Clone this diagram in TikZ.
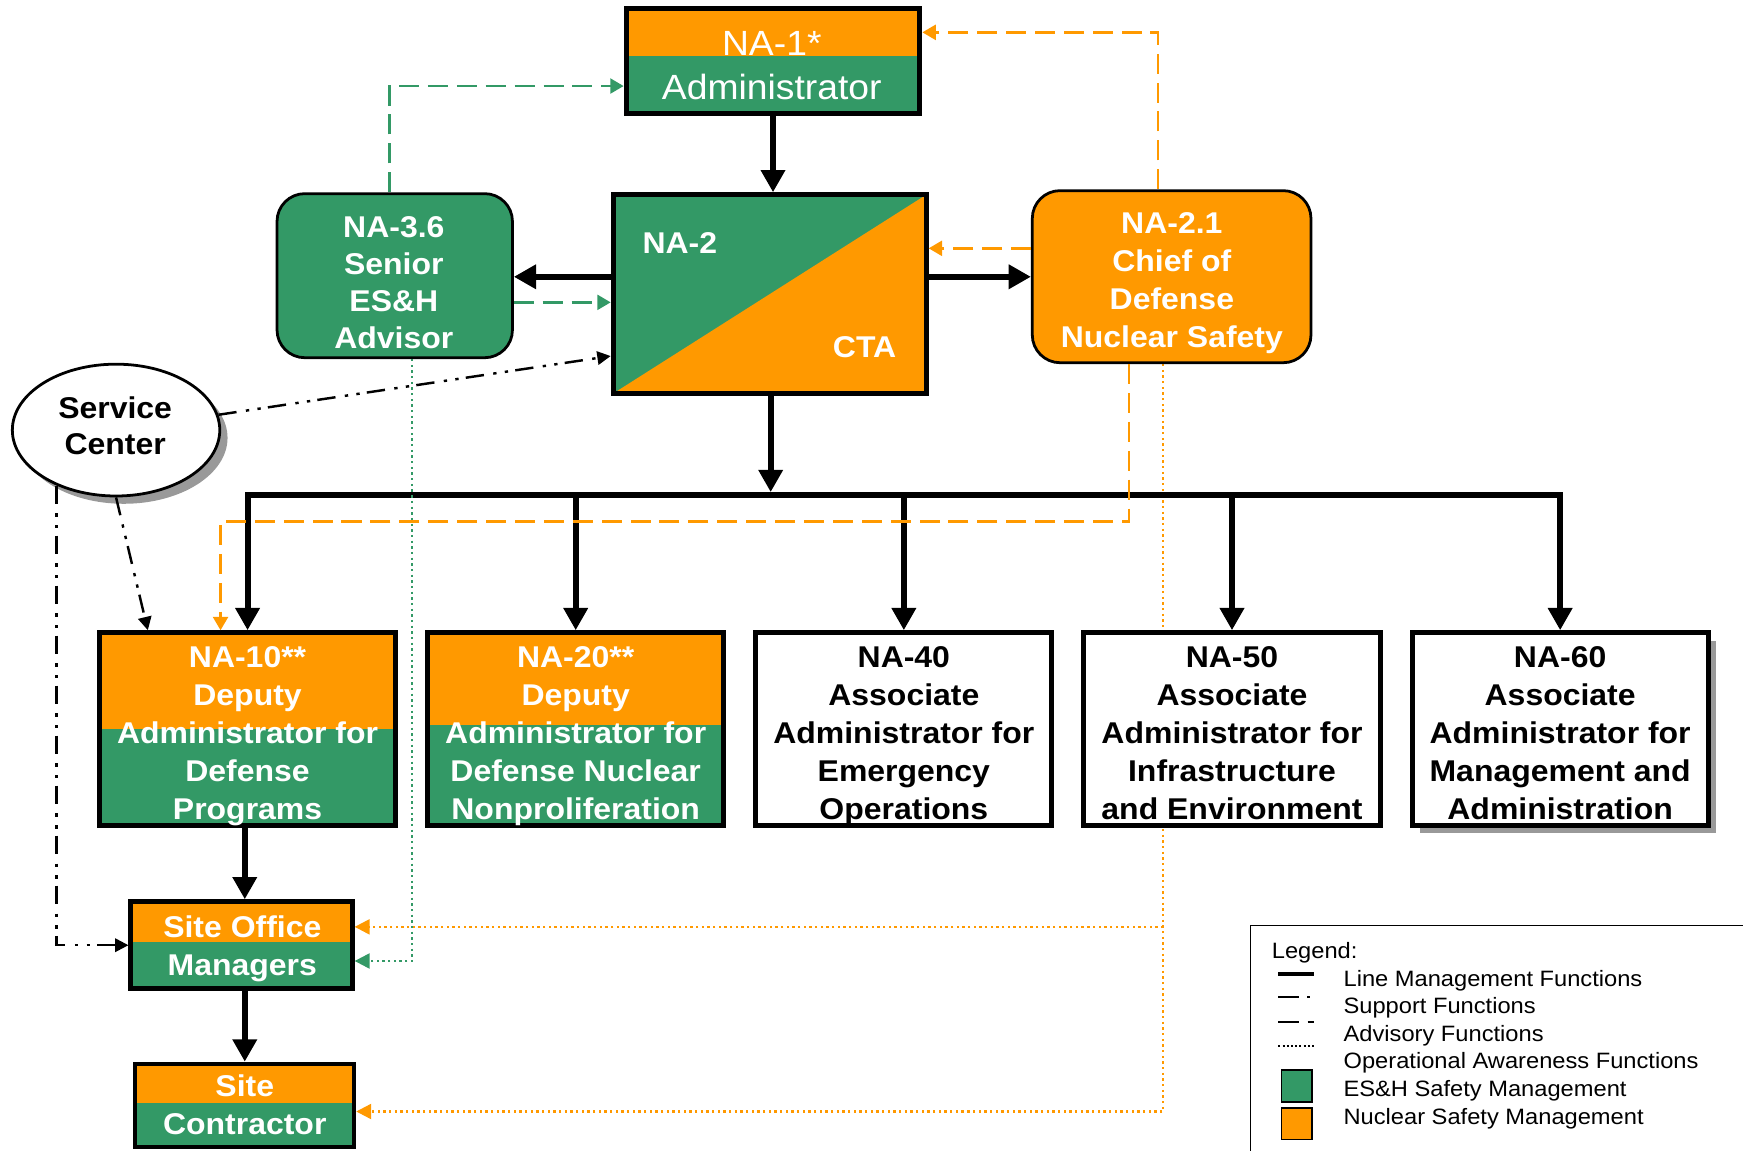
\documentclass[tikz,border=0pt]{standalone}
\usepackage{fontspec}
\setmainfont{Liberation Sans}[FakeStretch=1.065]
\usetikzlibrary{arrows.meta,shapes.geometric,shadows,backgrounds}
\definecolor{ngreen}{HTML}{339966}
\definecolor{norange}{HTML}{FF9900}
\definecolor{shgray}{HTML}{999999}
\tikzset{
  boxnode/.style={draw=black, line width=4.5pt, rectangle, inner sep=0pt},
  rbox/.style={draw=black, line width=2.5pt, rectangle, rounded corners=25pt, inner sep=0pt},
  splitbox/.style={fill=norange, path picture={\fill[ngreen] (path picture bounding box.south west) rectangle ([yshift=#1pt]path picture bounding box.south east);}},
  wtxt/.style={text=white, font=\bfseries\fontsize{27}{34}\selectfont, align=center, inner sep=0pt},
  btxt/.style={text=black, font=\bfseries\fontsize{27}{34}\selectfont, align=center, inner sep=0pt},
  legtxt/.style={text=black, font=\fontsize{20}{25}\selectfont, anchor=base west, inner sep=0pt},
  lm/.style={draw=black, line width=5.5pt, -{Triangle[width=21pt,length=20pt]}},
  adv/.style={line width=2.1pt, dash pattern=on 18pt off 8pt, -{Triangle[width=13.5pt,length=12pt]}},
  oaw/.style={line width=2.1pt, dash pattern=on 2.1pt off 3pt, -{Triangle[width=13.5pt,length=13.5pt]}},
  supp/.style={draw=black, line width=2.2pt, dash pattern=on 16.5pt off 8.5pt on 3pt off 7.5pt on 3pt off 6.5pt, -{Triangle[width=12pt,length=12pt]}},
  shad/.style={drop shadow={shadow xshift=7pt, shadow yshift=-7pt, opacity=1, fill=shgray}},
}
\begin{document}
\begin{tikzpicture}[x=1pt,y=-1pt]
\useasboundingbox (0,0) rectangle (1568,1035);

% ---------- boxes ----------
\node[boxnode, splitbox=51.8, minimum width=264.3pt, minimum height=94.6pt] (na1) at (695.4,54.9) {};
\node[boxnode, fill=ngreen, minimum width=281.6pt, minimum height=178.8pt,
  path picture={\fill[norange] (path picture bounding box.south west) -- (path picture bounding box.north east) -- (path picture bounding box.south east) -- cycle;}] (na2) at (692.4,264.6) {};
\node[rbox, fill=ngreen, minimum width=211.8pt, minimum height=147.6pt] (na36) at (355.1,248) {};
\node[rbox, fill=norange, minimum width=250.7pt, minimum height=154.8pt] (na21) at (1054,248.9) {};
\node[ellipse, draw=black, line width=2.5pt, fill=white, minimum width=186.6pt, minimum height=118.6pt, inner sep=0pt, shad] (svc) at (104.4,386.9) {};

\node[boxnode, splitbox=86, minimum width=266.5pt, minimum height=173pt] (na10) at (222.7,655.7) {};
\node[boxnode, splitbox=90, minimum width=266.5pt, minimum height=173pt] (na20) at (517.9,655.7) {};
\node[boxnode, fill=white, minimum width=266.5pt, minimum height=173pt] (na40) at (813.1,655.7) {};
\node[boxnode, fill=white, minimum width=266.5pt, minimum height=173pt] (na50) at (1108.3,655.7) {};
\node[boxnode, fill=white, minimum width=266.5pt, minimum height=173pt, shad] (na60) at (1403.5,655.7) {};

\node[boxnode, splitbox=41.6, minimum width=199pt, minimum height=78.1pt] (som) at (217.3,850.3) {};
\node[boxnode, line width=3.5pt, splitbox=40, minimum width=197pt, minimum height=75pt] (sc) at (220.2,994.3) {};

% ---------- texts ----------
\node[text=white, font=\fontsize{31.5}{40}\selectfont, align=center, inner sep=0pt] (na1t) at (694.3,58.8) {NA-1*\\Administrator};
\node[wtxt] (na2t) at (611.6,218.9) {NA-2};
\node[wtxt] (ctat) at (777.8,311.9) {CTA};
\node[wtxt, font=\bfseries\fontsize{27}{33.5}\selectfont] (na36t) at (354.3,254.2) {NA-3.6\\Senior\\ES\&H\\Advisor};
\node[wtxt, font=\bfseries\fontsize{27}{34.2}\selectfont] (na21t) at (1054.2,254.6) {NA-2.1\\Chief of\\Defense\\Nuclear Safety};
\node[btxt, font=\bfseries\fontsize{27}{33}\selectfont] (svct) at (103.6,383) {Service\\Center};

\node[wtxt] (na10t) at (222.7,662.2) {NA-10**\\Deputy\\Administrator for\\Defense\\Programs};
\node[wtxt] (na20t) at (517.9,662.2) {NA-20**\\Deputy\\Administrator for\\Defense Nuclear\\Nonproliferation};
\node[btxt] (na40t) at (813.1,662.2) {NA-40\\Associate\\Administrator for\\Emergency\\Operations};
\node[btxt] (na50t) at (1108.3,659.5) {NA-50\\Associate\\Administrator for\\Infrastructure\\and Environment};
\node[btxt] (na60t) at (1403.5,659.5) {NA-60\\Associate\\Administrator for\\Management and\\Administration};
\node[wtxt] (somt) at (218,853.4) {Site Office\\Managers};
\node[wtxt] (sct) at (220.2,994) {Site\\Contractor};

% ---------- line management ----------
\coordinate (a1) at ([yshift=15.6pt]na2.west);
\draw[lm] (na1.south) -- (na1.south |- na2.north);
\draw[lm] (a1) -- (a1 -| na36.east);
\draw[lm] (na2.east |- a1) -- (a1 -| na21.west);
\coordinate (bus) at (693.3,445.5);
\coordinate (bustop) at (693.3,442.7);
\draw[lm] (na2.south -| bustop) -- (bustop);
\draw[lm] (bus) -| (na10.north);
\draw[lm] (bus) -| (na60.north);
\draw[lm] (na20.north |- bus) -- (na20.north);
\draw[lm] (na40.north |- bus) -- (na40.north);
\draw[lm] (na50.north |- bus) -- (na50.north);
\draw[lm] (sc.north |- na10.south) -- (sc.north |- som.north);
\draw[lm] (sc.north |- som.south) -- (sc.north);

% ---------- advisory ----------
\coordinate (a2) at ([yshift=-7.4pt]na2.west);
\draw[adv, ngreen] (a2 -| na36.east) -- (a2);
\draw[adv, ngreen] ([xshift=-4.6pt]na36.north) |- ([yshift=-22.5pt]na1.west);
\draw[adv, norange] ([xshift=-12.2pt]na21.north) |- ([yshift=25.8pt]na1.east);
\coordinate (a4) at ([yshift=25.5pt]na21.west);
\draw[adv, norange] (a4) -- (a4 -| na2.east);
\draw[adv, norange] ([xshift=-38.3pt]na21.south) -- ++(0,141.5) -| ([xshift=-24.3pt]na10.north);

% ---------- operational awareness ----------
\begin{scope}[on background layer]
\coordinate (d1) at ([xshift=-7.6pt]na21.south);
\coordinate (d2) at ([yshift=16.5pt]som.east);
\draw[oaw, norange] (d1) |- ([yshift=-5.6pt]sc.east);
\draw[oaw, norange] (d1 |- d2) -- (d2);
\end{scope}
\draw[oaw, ngreen] ([xshift=15.6pt]na36.south) |- ([yshift=-14.2pt]som.east);

% ---------- support ----------
\draw[supp] (svc) -- ([yshift=-55.7pt]na2.west);
\draw[supp] (svc.south) -- ([xshift=-89.7pt]na10.north);
\draw[supp] (svc.223) |- (som.west);

% ---------- legend ----------
\draw[line width=1.5pt] (1125,1045) -- (1125,832.5) -- (1580,832.5);
\node[legtxt] (leg0) at (1144,862) {Legend:};
\node[legtxt] (leg1) at (1208.5,887.5) {Line Management Functions};
\node[legtxt] (leg2) at (1208.5,911.6) {Support Functions};
\node[legtxt] (leg3) at (1208.5,936.5) {Advisory Functions};
\node[legtxt] (leg4) at (1208.5,961.1) {Operational Awareness Functions};
\node[legtxt] (leg5) at (1208.5,986) {ES\&H Safety Management};
\node[legtxt] (leg6) at (1208.5,1011.2) {Nuclear Safety Management};
\draw[line width=4pt] (1149.7,876.2) -- (1182.1,876.2);
\draw[line width=1.8pt] (1150,897.2) -- (1169,897.2);
\draw[line width=1.8pt] (1176,897.2) -- (1178.5,897.2);
\draw[line width=1.8pt] (1150,919.7) -- (1169,919.7);
\draw[line width=1.8pt] (1176.4,919.7) -- (1182,919.7);
\draw[line width=1.8pt, dash pattern=on 1.8pt off 2pt] (1150,941) -- (1182,941);
\filldraw[fill=ngreen, draw=black, line width=1.5pt] (1152.7,962.6) rectangle (1180.3,991.4);
\filldraw[fill=norange, draw=black, line width=1.5pt] (1152.7,996.5) rectangle (1180.3,1025);
\end{tikzpicture}
\end{document}
